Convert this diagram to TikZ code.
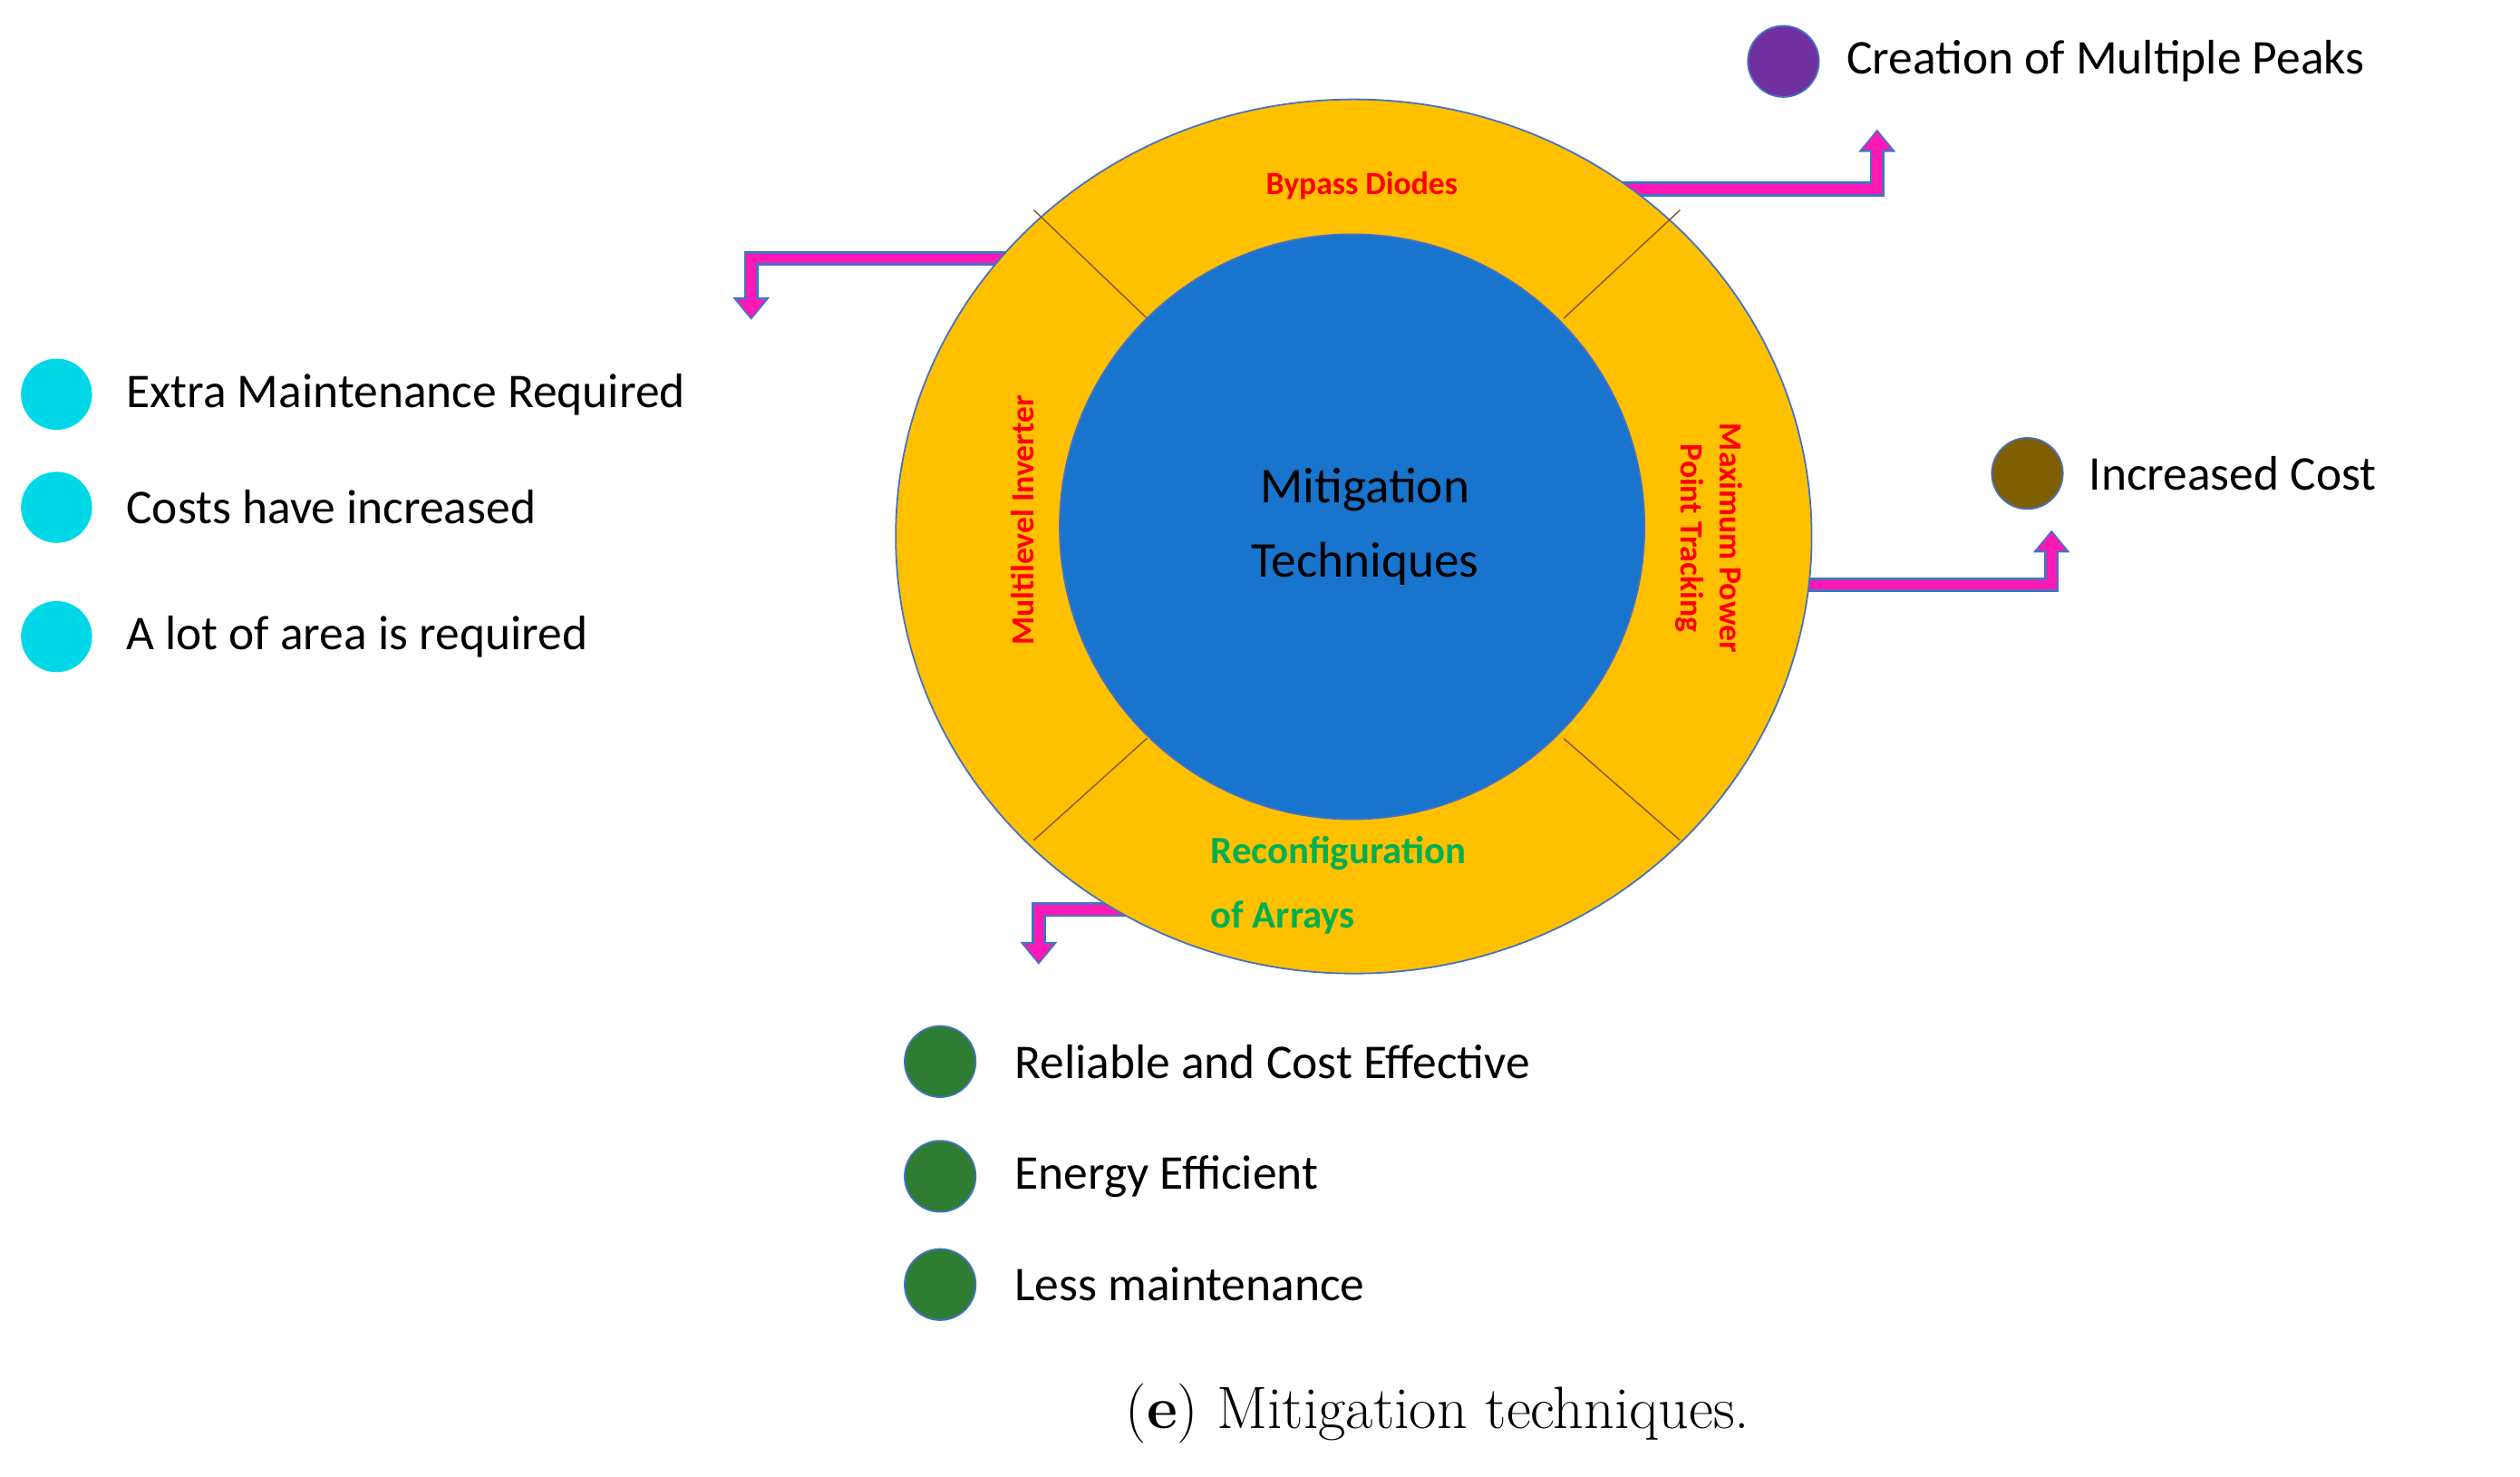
\documentclass[tikz,border=0pt]{standalone}
\usepackage{fontspec}
\setmainfont{Carlito}
\newfontfamily\capfont{Latin Modern Roman}
\usetikzlibrary{arrows.meta,shapes.geometric}
\definecolor{ring}{HTML}{FFC000}
\definecolor{core}{HTML}{1874CD}
\definecolor{mag}{HTML}{FF19B4}
\definecolor{edge}{HTML}{4472C4}
\definecolor{cyanb}{HTML}{00D8E8}
\definecolor{greenb}{HTML}{2E7D32}
\definecolor{purp}{HTML}{7030A0}
\definecolor{brownb}{HTML}{7F5F00}
\definecolor{greent}{HTML}{00B050}
\tikzset{
 x=1pt,y=-1pt,
 dot/.style={circle,minimum size=44pt,inner sep=0pt,draw=edge,line width=1pt},
 item/.style={anchor=west,font=\fontsize{30}{34}\selectfont,inner sep=0pt},
 seg/.style={font=\bfseries\fontsize{20}{24}\selectfont,text=red,align=center},
 arrB/.style={edge,line width=9pt,-{Triangle[length=14pt,width=22pt]}},
 arrM/.style={mag,line width=6pt,-{Triangle[length=11pt,width=17pt]}},
 sep/.style={draw=brown!70!black,line width=0.8pt}
}
\newcommand{\bentarrow}[3]{%
 \draw[arrB] (#1) -- (#2) -- (#3);
 \draw[arrM,shorten >=1.5pt] (#1) -- (#2) -- (#3);}
\begin{document}
\begin{tikzpicture}
\useasboundingbox (0,0) rectangle (1560,913.6);
% arrows first (behind ring)
\coordinate (a1s) at (1000,117); \coordinate (a1m) at (1162,117); \coordinate (a1e) at (1162,80);
\coordinate (a2s) at (1100,362); \coordinate (a2m) at (1270,362); \coordinate (a2e) at (1270,328);
\coordinate (a3s) at (630,160); \coordinate (a3m) at (465,160); \coordinate (a3e) at (465,198);
\coordinate (a4s) at (720,563); \coordinate (a4m) at (643,563); \coordinate (a4e) at (643,597);
\bentarrow{a1s}{a1m}{a1e}
\bentarrow{a2s}{a2m}{a2e}
\bentarrow{a3s}{a3m}{a3e}
\bentarrow{a4s}{a4m}{a4e}
% ring
\node[ellipse,minimum width=567pt,minimum height=541pt,fill=ring,draw=edge,line width=1pt] (ring) at (838,332) {};
\draw[sep] (640,130) -- (710,197);
\draw[sep] (1040,130) -- (968,197);
\draw[sep] (640,520) -- (710,457);
\draw[sep] (1040,520) -- (968,457);
\node[circle,minimum size=362pt,fill=core,draw=edge,line width=1pt] (core) at (837,326) {};
\node[font=\fontsize{31}{46}\selectfont,align=center] (title) at (845,326) {Mitigation\\Techniques};
\node[seg] (bp) at (843,115) {Bypass Diodes};
\node[seg,rotate=90] (mi) at (633,322) {Multilevel Inverter};
\node[seg,rotate=-90] (mp) at (1058,333) {Maximum Power\\Point Tracking};
\node[seg,text=greent,align=left,anchor=west,font=\bfseries\fontsize{24}{40}\selectfont] (ra) at (746,548) {Reconfiguration\\of Arrays};
% items
\node[dot,fill=purp] (p1) at (1104,38) {};
\node[item] (t1) at (1143,38) {Creation of Multiple Peaks};
\node[dot,fill=brownb] (b1) at (1255,293) {};
\node[item] (t2) at (1293,293) {Increased Cost};
\foreach \y/\t/\n in {244/Extra Maintenance Required/c1,314/Costs have increased/c2,394/A lot of area is required/c3}{
 \node[dot,fill=cyanb,draw=none] (\n) at (35,\y) {};
 \node[item] (\n t) at (78,\y) {\t};}
\foreach \y/\t/\n in {657/Reliable and Cost Effective/g1,728/Energy Efficient/g2,795/Less maintenance/g3}{
 \node[dot,fill=greenb] (\n) at (582,\y) {};
 \node[item] (\n t) at (628,\y) {\t};}
\node[font=\capfont\fontsize{37}{40}\selectfont] (cap) at (890,875) {(\textbf{e}) Mitigation techniques.};
\end{tikzpicture}
\end{document}
